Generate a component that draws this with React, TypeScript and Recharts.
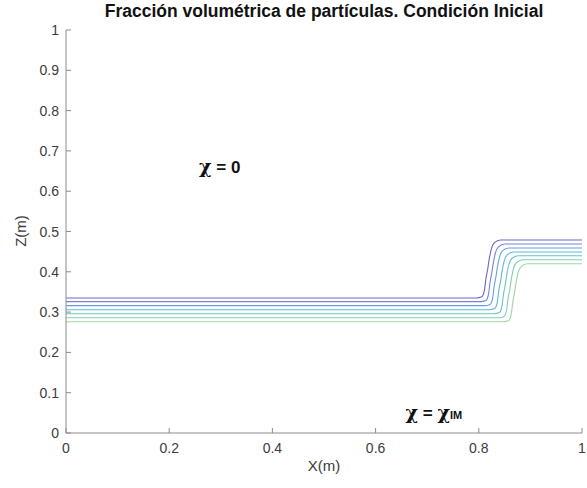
import { LineChart, Line, XAxis, YAxis, ReferenceDot } from "recharts"

// contour lines, from the top (purple) level to the bottom (green) level: [x, z]
const level1: [number, number][] = [[0, 0.335], [0.795, 0.335], [0.806, 0.338], [0.811, 0.355], [0.814, 0.385], [0.817, 0.405], [0.82, 0.43], [0.824, 0.455], [0.83, 0.472], [0.842, 0.479], [1, 0.479]]
const level2: [number, number][] = [[0, 0.326], [0.803, 0.326], [0.814, 0.329], [0.819, 0.346], [0.822, 0.376], [0.825, 0.396], [0.828, 0.421], [0.832, 0.446], [0.838, 0.462], [0.85, 0.469], [1, 0.469]]
const level3: [number, number][] = [[0, 0.316], [0.811, 0.316], [0.822, 0.319], [0.827, 0.336], [0.83, 0.366], [0.833, 0.386], [0.836, 0.411], [0.84, 0.436], [0.846, 0.452], [0.858, 0.459], [1, 0.459]]
const level4: [number, number][] = [[0, 0.306], [0.82, 0.306], [0.831, 0.309], [0.836, 0.326], [0.839, 0.356], [0.842, 0.376], [0.845, 0.401], [0.849, 0.426], [0.855, 0.442], [0.867, 0.449], [1, 0.449]]
const level5: [number, number][] = [[0, 0.296], [0.829, 0.296], [0.84, 0.299], [0.845, 0.316], [0.848, 0.346], [0.851, 0.366], [0.854, 0.391], [0.858, 0.417], [0.864, 0.433], [0.876, 0.44], [1, 0.44]]
const level6: [number, number][] = [[0, 0.286], [0.838, 0.286], [0.849, 0.289], [0.854, 0.306], [0.857, 0.336], [0.86, 0.356], [0.863, 0.381], [0.867, 0.407], [0.873, 0.423], [0.885, 0.43], [1, 0.43]]
const level7: [number, number][] = [[0, 0.276], [0.847, 0.276], [0.858, 0.279], [0.863, 0.296], [0.866, 0.326], [0.869, 0.346], [0.872, 0.371], [0.876, 0.397], [0.882, 0.413], [0.894, 0.42], [1, 0.42]]

const levels = [level1, level2, level3, level4, level5, level6, level7]
const levelColors = ["#6f66c6", "#7482da", "#669ee0", "#5eb6d8", "#68c5c8", "#80cfb6", "#a0d7a4"]

const xTicks = [0, 0.2, 0.4, 0.6, 0.8, 1]
const zTicks = [0, 0.1, 0.2, 0.3, 0.4, 0.5, 0.6, 0.7, 0.8, 0.9, 1]

const title = "Fracción volumétrica de partículas. Condición Inicial"

const AXIS = "#8c8c8c"
const TEXT = "#3c3c3c"
const FONT = "'Liberation Sans', Arial, Helvetica, sans-serif"
const CHI = "'DejaVu Serif', serif"

const BottomTick = ({ x, y, payload }: any) => (
  <g>
    <line x1={x} y1={y} x2={x} y2={y - 5} stroke={AXIS} />
    <text x={x} y={y + 20} textAnchor="middle" fontSize={14} fill={TEXT} fontFamily={FONT}>
      {payload.value}
    </text>
  </g>
)

const LeftTick = ({ x, y, payload }: any) => (
  <g>
    <line x1={x} y1={y} x2={x + 5} y2={y} stroke={AXIS} />
    <text x={x - 7} y={y + 5} textAnchor="end" fontSize={14} fill={TEXT} fontFamily={FONT}>
      {payload.value}
    </text>
  </g>
)

const TopTick = ({ x, y }: any) => <line x1={x} y1={y} x2={x} y2={y + 5} stroke={AXIS} />
const RightTick = ({ x, y }: any) => <line x1={x} y1={y} x2={x - 5} y2={y} stroke={AXIS} />

const ChiZero = ({ viewBox }: any) => (
  <text x={viewBox.x + viewBox.width / 2} y={viewBox.y + viewBox.height / 2 + 6} textAnchor="middle" fontSize={17} fontWeight="bold" fill="#111" fontFamily={FONT}>
    <tspan fontFamily={CHI} fontSize={19}>χ</tspan> = 0
  </text>
)

const ChiIM = ({ viewBox }: any) => (
  <text x={viewBox.x + viewBox.width / 2} y={viewBox.y + viewBox.height / 2 + 6} textAnchor="middle" fontSize={17} fontWeight="bold" fill="#111" fontFamily={FONT}>
    <tspan fontFamily={CHI} fontSize={19}>χ</tspan> = <tspan fontFamily={CHI} fontSize={19}>χ</tspan><tspan fontSize={11}>IM</tspan>
  </text>
)

export default function App() {
  return (
    <div style={{ position: "absolute", left: 0, top: 0, width: 587, height: 488, background: "#fff", fontFamily: FONT }}>
      <div style={{ position: "absolute", left: 56, width: 536, top: 1, textAlign: "center", fontSize: 17.5, fontWeight: "bold", color: "#111", whiteSpace: "nowrap" }}>
        {title}
      </div>
      <div style={{ position: "absolute", left: 20, top: 231, transform: "translate(-50%, -50%) rotate(-90deg)", fontSize: 15, color: TEXT, whiteSpace: "nowrap" }}>
        Z(m)
      </div>
      <div style={{ position: "absolute", left: 66, width: 516, top: 457, textAlign: "center", fontSize: 15, color: TEXT }}>
        X(m)
      </div>
      <LineChart width={587} height={488} margin={{ top: 30, right: 5, left: 0, bottom: 0 }}>
        <XAxis dataKey="x" type="number" domain={[0, 1]} ticks={xTicks} height={55} tickLine={false} tickSize={0} tickMargin={0} stroke={AXIS} tick={<BottomTick />} interval={0} />
        <XAxis xAxisId="top" orientation="top" dataKey="x" type="number" domain={[0, 1]} ticks={xTicks} height={0} tickLine={false} tickSize={0} tickMargin={0} stroke={AXIS} tick={<TopTick />} interval={0} />
        <YAxis type="number" domain={[0, 1]} ticks={zTicks} width={66} tickLine={false} tickSize={0} tickMargin={0} stroke={AXIS} tick={<LeftTick />} interval={0} />
        <YAxis yAxisId="right" orientation="right" type="number" domain={[0, 1]} ticks={zTicks} width={0} tickLine={false} tickSize={0} tickMargin={0} stroke={AXIS} tick={<RightTick />} interval={0} />
        {levels.map((pts, i) => (
          <Line
            key={i}
            data={pts.map(([x, z]) => ({ x, z }))}
            dataKey="z"
            type="monotoneX"
            stroke={levelColors[i]}
            strokeWidth={1.1}
            dot={false}
            activeDot={false}
            isAnimationActive={false}
          />
        ))}
        <ReferenceDot x={0.298} y={0.66} r={1} fill="none" stroke="none" label={<ChiZero />} />
        <ReferenceDot x={0.713} y={0.05} r={1} fill="none" stroke="none" label={<ChiIM />} />
      </LineChart>
    </div>
  )
}
